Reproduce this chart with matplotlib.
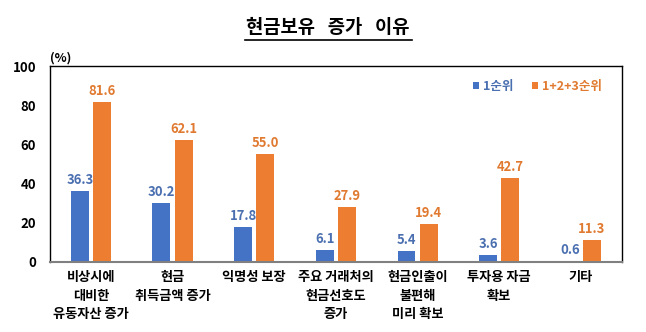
import matplotlib
matplotlib.use("Agg")
import matplotlib.pyplot as plt
import numpy as np

plt.rcParams['font.family'] = ['Noto Sans CJK KR', 'DejaVu Sans']

categories = ["비상시에\n대비한\n유동자산 증가", "현금\n취득금액 증가", "익명성 보장",
              "주요 거래처의\n현금선호도\n증가", "현금인출이\n불편해\n미리 확보",
              "투자용 자금\n확보", "기타"]
first = [36.3, 30.2, 17.8, 6.1, 5.4, 3.6, 0.6]
total = [81.6, 62.1, 55.0, 27.9, 19.4, 42.7, 11.3]
series_names = ["1순위", "1+2+3순위"]
yticks = [0, 20, 40, 60, 80, 100]

blue = "#4472C4"
orange = "#ED7D31"
blue_txt = "#4A6FB0"
orange_txt = "#E07A30"

fig = plt.figure(figsize=(6.46, 3.32), dpi=100)
ax = fig.add_axes([0.0774, 0.211, 0.885, 0.590])

x = np.arange(len(categories))
w = 0.22
off = 0.135
ax.bar(x - off, first, w, color=blue, label=series_names[0])
ax.bar(x + off, total, w, color=orange, label=series_names[1])

for xi, v in zip(x, first):
    ax.text(xi - off, v + 2, f"{v:.1f}", ha='center', va='bottom', color=blue_txt,
            fontsize=9.4, fontweight='bold')
for xi, v in zip(x, total):
    ax.text(xi + off, v + 2, f"{v:.1f}", ha='center', va='bottom', color=orange_txt,
            fontsize=9.4, fontweight='bold')

ax.set_xlim(-0.5, len(categories) - 0.5)
ax.set_ylim(0, 100)
ax.set_yticks(yticks)
ax.set_yticklabels([str(t) for t in yticks], fontsize=9.5, fontweight='bold')
ax.set_xticks(x)
ax.set_xticklabels(categories, fontsize=9.5, fontweight='bold', linespacing=1.4)
ax.tick_params(axis='both', length=0)
ax.tick_params(axis='y', pad=10)
ax.tick_params(axis='x', pad=6)

for s in ['top', 'right', 'left']:
    ax.spines[s].set_color('black')
    ax.spines[s].set_linewidth(1.0)
ax.spines['bottom'].set_color('#808080')
ax.spines['bottom'].set_linewidth(1.5)

leg = ax.legend(loc='upper right', ncol=2, frameon=False,
                prop={'size': 9, 'weight': 'bold'},
                handlelength=0.5, handleheight=0.5, handletextpad=0.3,
                columnspacing=1.5, bbox_to_anchor=(0.985, 0.985))
for t, c in zip(leg.get_texts(), [blue_txt, orange_txt]):
    t.set_color(c)

ax.text(0.0, 1.01, "(%)", transform=ax.transAxes, fontsize=9, fontweight='bold',
        ha='left', va='bottom')

fig.text(0.508, 0.917, "현금보유   증가   이유", ha='center', va='center', fontsize=13.5,
         fontweight='bold')
# underline
fig.add_artist(plt.Line2D([0.379, 0.638], [0.881, 0.881], color='black', lw=1.2,
                          transform=fig.transFigure))

fig.savefig("out.png", dpi=100)
